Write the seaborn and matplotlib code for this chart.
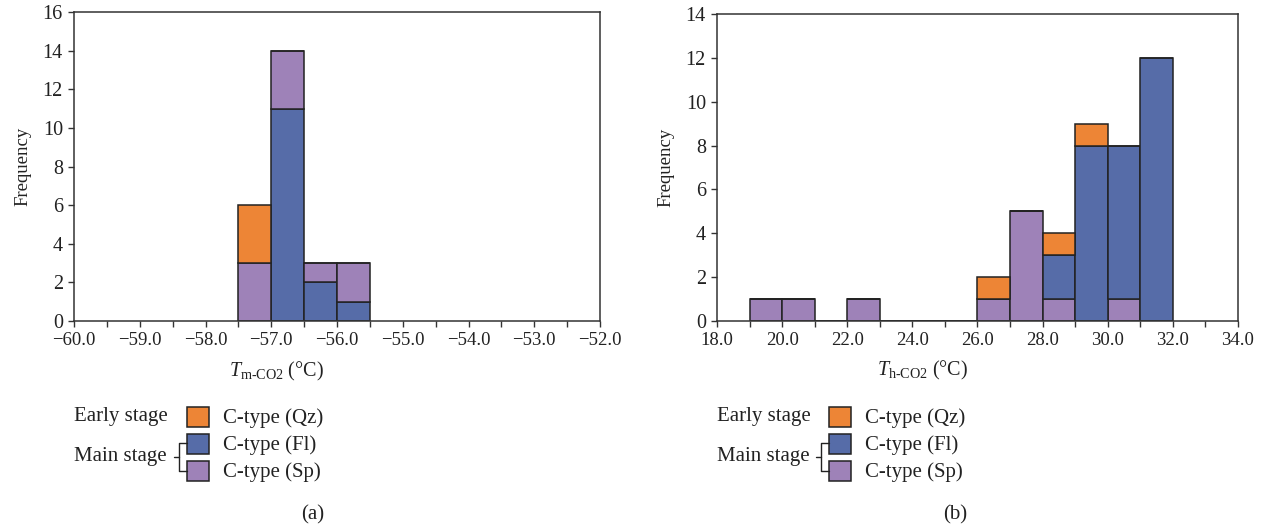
import numpy as np
import pandas as pd
import matplotlib.pyplot as plt
import seaborn as sns
from matplotlib.patches import Rectangle
from matplotlib.lines import Line2D
from matplotlib.ticker import MultipleLocator, FuncFormatter

# Data (counts per bin)
left_edges = [-57.5, -57.0, -56.5, -56.0, -55.5]
left_qz = [3, 0, 0, 0]
left_fl = [0, 11, 2, 1]
left_sp = [3, 3, 1, 2]

right_edges = [19, 20, 21, 22, 23, 24, 25, 26, 27, 28, 29, 30, 31, 32]
right_qz = [0, 0, 0, 0, 0, 0, 0, 1, 0, 1, 1, 0, 0]
right_fl = [0, 0, 0, 0, 0, 0, 0, 0, 0, 2, 8, 7, 12]
right_sp = [1, 1, 0, 1, 0, 0, 0, 1, 5, 1, 0, 1, 0]

types = ["C-type (Qz)", "C-type (Fl)", "C-type (Sp)"]
colors = {"C-type (Qz)": "#ED8536", "C-type (Fl)": "#566CA8", "C-type (Sp)": "#9E82B8"}


def long_table(edges, qz, fl, sp):
    centers = [(a + b) / 2 for a, b in zip(edges[:-1], edges[1:])]
    rows = []
    for name, counts in zip(types, [qz, fl, sp]):
        for c, n in zip(centers, counts):
            rows.append({"temp": c, "count": n, "type": name})
    return pd.DataFrame(rows)


df_left = long_table(left_edges, left_qz, left_fl, left_sp)
df_right = long_table(right_edges, right_qz, right_fl, right_sp)

sns.set_theme(style="white")
plt.rcParams["font.family"] = ["Liberation Serif", "DejaVu Serif"]
plt.rcParams["mathtext.fontset"] = "custom"
plt.rcParams["mathtext.rm"] = "Liberation Serif"
plt.rcParams["mathtext.it"] = "Liberation Serif:italic"

fig = plt.figure(figsize=(12.65, 5.27), dpi=100)
W, H = 1265, 527
ax1 = fig.add_axes([74 / W, 1 - 321 / H, (600 - 74) / W, (321 - 12) / H])
ax2 = fig.add_axes([717 / W, 1 - 321 / H, (1238 - 717) / W, (321 - 14) / H])

# seaborn stacks the last hue level at the bottom
sns.histplot(data=df_left, x="temp", weights="count", hue="type", bins=left_edges,
             multiple="stack", hue_order=["C-type (Qz)", "C-type (Sp)", "C-type (Fl)"],
             palette=colors, alpha=1, edgecolor="#222222", linewidth=1.1,
             legend=False, ax=ax1)
sns.histplot(data=df_right, x="temp", weights="count", hue="type", bins=right_edges,
             multiple="stack", hue_order=["C-type (Qz)", "C-type (Fl)", "C-type (Sp)"],
             palette=colors, alpha=1, edgecolor="#222222", linewidth=1.1,
             legend=False, ax=ax2)

fmt = FuncFormatter(lambda v, p: f"{v:.1f}".replace("-", "\u2212"))

for ax, xlim, ylim, major, minor, sub, lx in [
    (ax1, (-60, -52), (0, 16), 1.0, 0.5, "m", 0.385),
    (ax2, (18, 34), (0, 14), 2.0, 1.0, "h", 0.395),
]:
    ax.set_xlim(*xlim)
    ax.set_ylim(*ylim)
    ax.xaxis.set_major_locator(MultipleLocator(major))
    ax.xaxis.set_minor_locator(MultipleLocator(minor))
    ax.xaxis.set_major_formatter(fmt)
    ax.yaxis.set_major_locator(MultipleLocator(2))
    ax.tick_params(axis="both", which="both", direction="out", length=4, width=1,
                   color="#333333", labelcolor="#222222", pad=4,
                   bottom=True, left=True, top=False, right=False)
    ax.tick_params(axis="x", labelsize=13.5)
    ax.tick_params(axis="y", labelsize=14.5)
    for s in ax.spines.values():
        s.set_color("#333333")
        s.set_linewidth(1.1)
    ax.set_ylabel("Frequency", fontsize=13.5, color="#222222", labelpad=8)
    ax.set_xlabel(r"$T_{\mathrm{%s‐CO2}}$ (°C)" % sub, fontsize=14.5, color="#222222")
    ax.xaxis.set_label_coords(lx, -0.125)
    ax.grid(False)

# Custom legends below each panel
def draw_legend(x0, px, tag, tag_x):
    kw = dict(fontsize=15, color="#222222", va="center", ha="left")
    ys = [417, 444, 471]
    fig.text(x0 / W, 1 - ys[0] / H, "Early stage", **kw)
    fig.text(x0 / W, 1 - 456 / H, "Main stage", **kw)
    for y, name in zip(ys, types):
        fig.patches.append(Rectangle((px / W, 1 - (y + 10) / H), 22 / W, 20 / H,
                                     facecolor=colors[name], edgecolor="#222222",
                                     linewidth=1.1, transform=fig.transFigure))
        fig.text((px + 36) / W, 1 - (y + 1) / H, name, **kw)
    # bracket joining the two main stage entries
    bx = px - 8
    fig.lines.append(Line2D([px / W, bx / W, bx / W, px / W],
                            [1 - 443 / H, 1 - 443 / H, 1 - 471 / H, 1 - 471 / H],
                            color="#222222", linewidth=1, transform=fig.transFigure))
    fig.lines.append(Line2D([(bx - 5) / W, bx / W], [1 - 457 / H, 1 - 457 / H],
                            color="#222222", linewidth=1, transform=fig.transFigure))
    fig.text(tag_x / W, 1 - 515 / H, tag, fontsize=15, color="#222222",
             va="center", ha="center")


draw_legend(74, 187, "(a)", 313)
draw_legend(717, 829, "(b)", 955)

plt.savefig("out.png", dpi=100)
